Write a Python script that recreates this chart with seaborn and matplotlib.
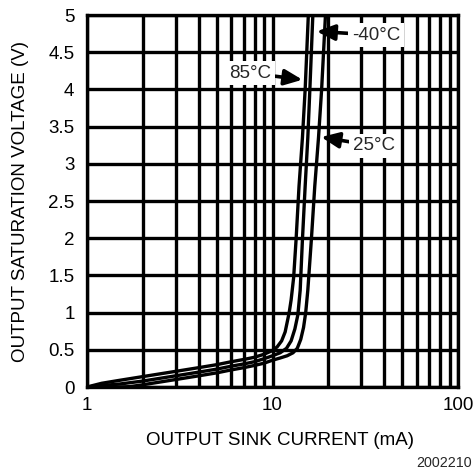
import numpy  as np
import pandas as pd

import seaborn as sns
from matplotlib import pyplot as plt
from matplotlib import ticker

# curve readings: sink current (mA) vs saturation voltage (V)
i_85  = [1.0, 1.2, 1.5, 2.0, 3.0, 4.0, 5.0, 6.0, 7.0, 8.0, 9.0, 10.0, 10.6,
         11.2, 11.7, 12.3, 12.6, 13.0, 13.4, 13.9, 14.5, 15.0, 15.6, 15.8]
v_85  = [0.0, 0.05, 0.09, 0.14, 0.21, 0.26, 0.30, 0.34, 0.37, 0.40, 0.44, 0.49, 0.54,
         0.62, 0.74, 1.00, 1.17, 1.47, 1.98, 2.70, 3.35, 4.00, 5.00, 5.20]

i_m40 = [1.0, 1.2, 1.5, 2.0, 3.0, 4.0, 5.0, 6.0, 7.0, 8.0, 9.0, 10.0, 11.0,
         11.9, 12.6, 13.2, 13.7, 14.1, 14.5, 15.0, 15.5, 15.9, 16.5, 16.7]
v_m40 = [0.0, 0.02, 0.04, 0.08, 0.15, 0.20, 0.24, 0.28, 0.31, 0.34, 0.38, 0.42, 0.46,
         0.52, 0.62, 0.78, 0.97, 1.30, 1.98, 2.70, 3.35, 4.00, 5.00, 5.20]

i_25  = [1.0, 1.5, 1.7, 2.0, 3.0, 4.0, 5.0, 6.0, 7.0, 8.0, 9.0, 10.0, 11.0,
         12.0, 12.9, 13.6, 14.2, 14.7, 15.1, 15.5, 16.2, 16.9, 17.7, 18.4, 19.3, 19.5]
v_25  = [0.0, 0.0, 0.005, 0.03, 0.10, 0.15, 0.19, 0.23, 0.26, 0.29, 0.32, 0.36, 0.39,
         0.42, 0.46, 0.52, 0.64, 0.80, 1.00, 1.30, 1.98, 2.70, 3.35, 4.00, 5.00, 5.20]

y_ticks = np.arange(0, 5.01, 0.5)
x_ticks = [1, 10, 100]

FS = 13.5

def build_df():
    df = pd.DataFrame()
    for name, i, v in [('85', i_85, v_85), ('-40', i_m40, v_m40), ('25', i_25, v_25)]:
        part = pd.DataFrame({'current':i, 'voltage':v})
        part['temp'] = name
        df = pd.concat((df, part), axis=0)
    return df.reset_index(drop=True)

data = build_df()

sns.set_theme(style='white')
plt.rcParams['font.family'] = ['Liberation Sans', 'DejaVu Sans']

fig = plt.figure(figsize=(4.74, 4.71), dpi=100)
ax  = fig.add_axes([87/474, 1-387/471, (458-87)/474, (387-15)/471])

LW = 2.4
g = sns.lineplot(data=data, x='current', y='voltage', hue='temp', units='temp',
                 estimator=None, sort=False, palette=['black']*3,
                 linewidth=LW, legend=False, ax=ax, zorder=3)

ax.set_xscale('log')
ax.set_xlim(1, 100)
ax.set_ylim(0, 5)
ax.set_xticks(x_ticks)
ax.xaxis.set_major_formatter(ticker.FuncFormatter(lambda x, p: f"{x:g}"))
ax.xaxis.set_minor_locator(ticker.LogLocator(base=10, subs=np.arange(2, 10)))
ax.xaxis.set_minor_formatter(ticker.NullFormatter())
ax.set_yticks(y_ticks)
ax.yaxis.set_major_formatter(ticker.FuncFormatter(lambda y, p: f"{y:g}"))

ax.grid(which='both', axis='both', color='black', linewidth=LW, zorder=1)
ax.set_axisbelow(True)
for s in ax.spines.values():
    s.set_color('black')
    s.set_linewidth(LW)

ax.tick_params(axis='both', which='both', length=0, labelsize=FS, colors='black')
ax.tick_params(axis='y', pad=9)
ax.tick_params(axis='x', pad=7)

ax.set_xlabel('OUTPUT SINK CURRENT (mA)', fontsize=FS, color='black')
ax.set_ylabel('OUTPUT SATURATION VOLTAGE (V)', fontsize=FS, color='black')
ax.xaxis.set_label_coords(0.52, -0.121)
ax.yaxis.set_label_coords(-0.155, 0.5)

#
arrow = dict(arrowstyle='-|>,head_length=0.8,head_width=0.35', lw=2.6,
             color='black', shrinkA=0, shrinkB=0)
box   = dict(boxstyle='square,pad=0.2', fc='white', ec='none')
for label, tip, txt in [('-40°C', (17.3, 4.78), (36.3, 4.73)),
                        ('85°C',  (14.5, 4.13), (7.62, 4.22)),
                        ('25°C',  (18.3, 3.36), (35.3, 3.24))]:
    ax.annotate(label, xy=tip, xytext=txt, ha='center', va='center',
                fontsize=FS, bbox=box, arrowprops=arrow, zorder=5)

fig.text(416/474, 1-463/471, '2002210', fontsize=10.3, va='center', ha='left')

fig.savefig('out.png', dpi=100)
plt.close()
